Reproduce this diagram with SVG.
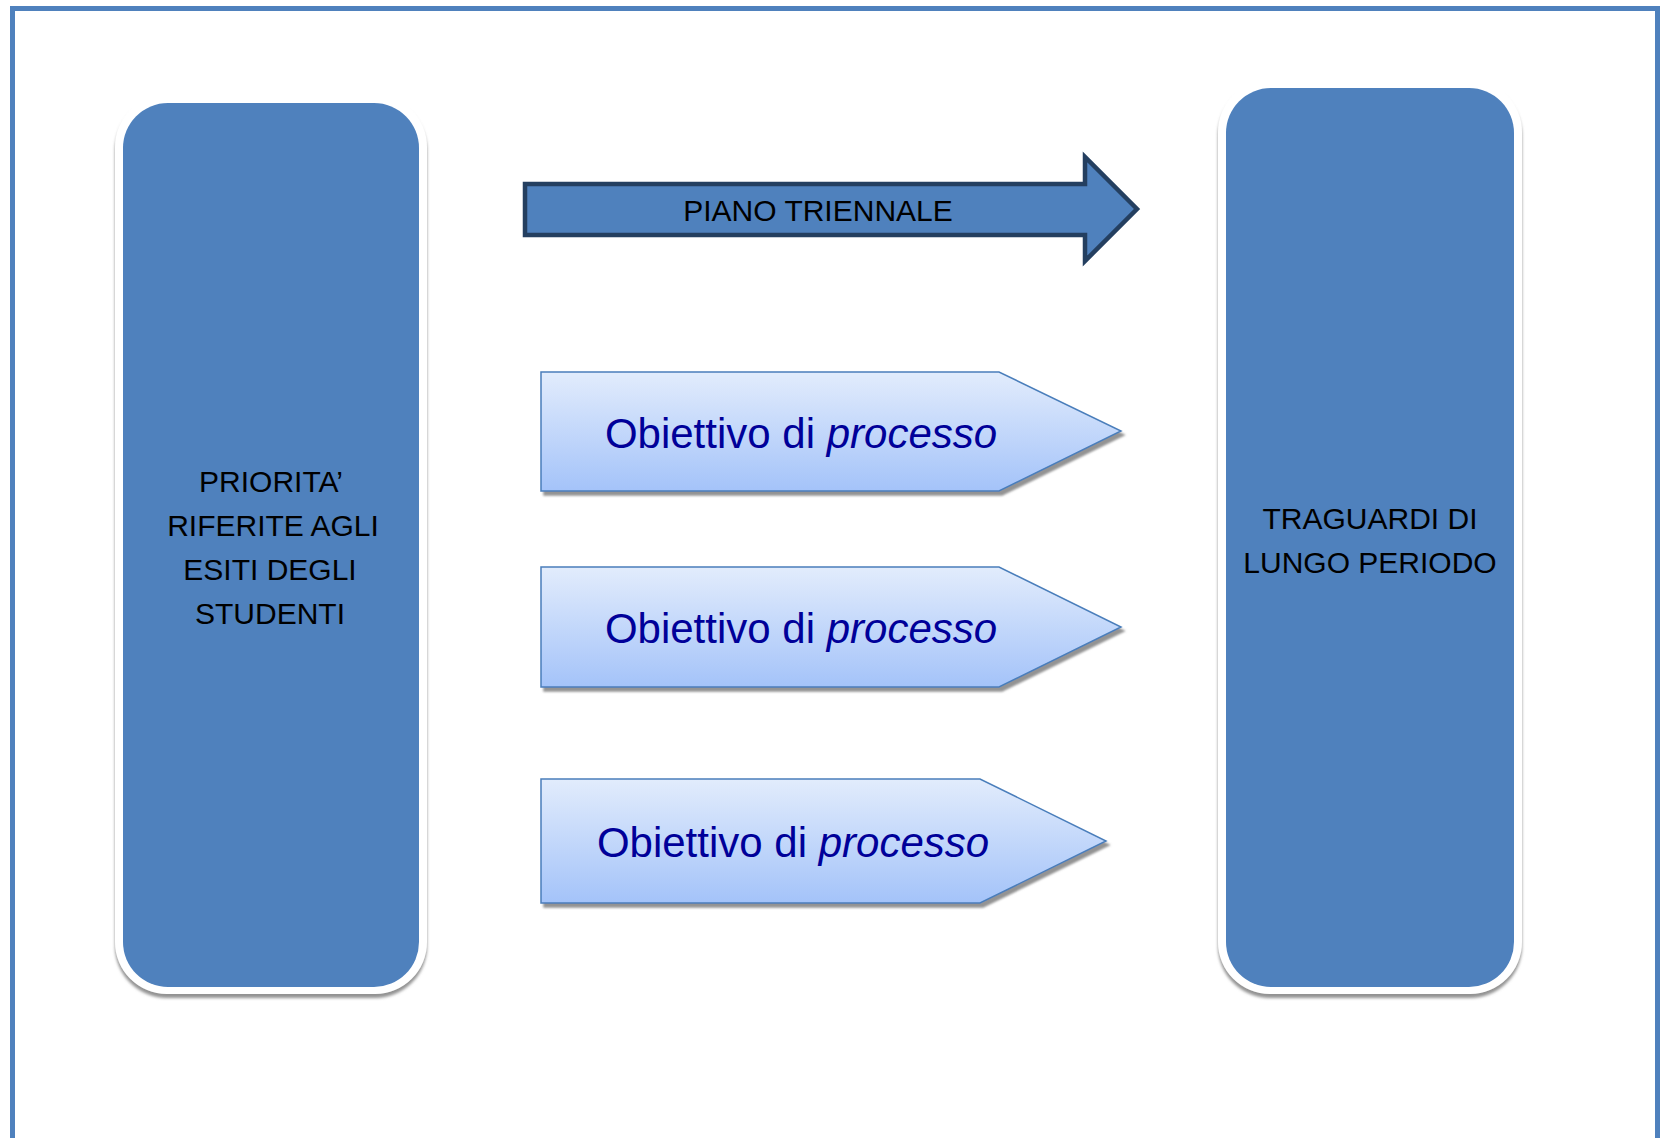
<svg xmlns="http://www.w3.org/2000/svg" width="1660" height="1138" viewBox="0 0 1660 1138">
  <style>
    .lbl { font-family: "Liberation Sans", Arial, sans-serif; font-size: 30px; fill: #000000; text-anchor: middle; }
    .obj { font-family: "Liberation Sans", Arial, sans-serif; font-size: 42px; fill: #000099; text-anchor: middle; }
    .blue { fill: #4F81BD; }
    .frame { fill: #FFFFFF; }
    .chev { fill: url(#chevGrad); stroke: #4A7EBB; stroke-width: 1.5; }
  </style>
  <defs>
    <linearGradient id="chevGrad" x1="0" y1="0" x2="0" y2="1">
      <stop offset="0" stop-color="#E2ECFC"/>
      <stop offset="1" stop-color="#A4C3F9"/>
    </linearGradient>
    <filter id="boxShadow" x="-10%" y="-10%" width="120%" height="120%">
      <feGaussianBlur in="SourceAlpha" stdDeviation="1.5"/>
      <feOffset dx="0" dy="4" result="b"/>
      <feFlood flood-color="#7F7F7F" flood-opacity="0.85"/>
      <feComposite in2="b" operator="in"/>
      <feMerge><feMergeNode/><feMergeNode in="SourceGraphic"/></feMerge>
    </filter>
    <filter id="chevShadow" x="-10%" y="-10%" width="120%" height="130%">
      <feGaussianBlur in="SourceAlpha" stdDeviation="1"/>
      <feOffset dx="3" dy="4" result="b"/>
      <feFlood flood-color="#808080" flood-opacity="0.85"/>
      <feComposite in2="b" operator="in"/>
      <feMerge><feMergeNode/><feMergeNode in="SourceGraphic"/></feMerge>
    </filter>
  </defs>

  <rect x="0" y="0" width="1660" height="1138" fill="#FFFFFF"/>
  <rect id="border" x="12.5" y="8.5" width="1645" height="1200" fill="none" stroke="#4F81BD" stroke-width="5"/>

  <g id="priorita">
    <rect class="frame" x="115" y="95" width="312" height="899" rx="52" ry="52" filter="url(#boxShadow)"/>
    <rect class="blue" x="123" y="103" width="296" height="884" rx="45" ry="45"/>
    <text class="lbl" x="271" y="492">PRIORITA’</text>
    <text class="lbl" x="273" y="536">RIFERITE AGLI</text>
    <text class="lbl" x="270" y="580">ESITI DEGLI</text>
    <text class="lbl" x="270" y="624">STUDENTI</text>
  </g>

  <g id="traguardi">
    <rect class="frame" x="1218" y="80" width="304" height="914" rx="52" ry="52" filter="url(#boxShadow)"/>
    <rect class="blue" x="1226" y="88" width="288" height="899" rx="45" ry="45"/>
    <text class="lbl" x="1370" y="529">TRAGUARDI DI</text>
    <text class="lbl" x="1370" y="573">LUNGO PERIODO</text>
  </g>

  <g id="piano">
    <polygon points="525,184 1085,184 1085,157 1137,209 1085,261 1085,235 525,235" fill="#4F81BD" stroke="#243F60" stroke-width="4.5" stroke-linejoin="miter"/>
    <text class="lbl" x="818" y="221">PIANO TRIENNALE</text>
  </g>

  <g id="obiettivo1">
    <polygon class="chev" points="541,372 999,372 1121,431 999,491 541,491" filter="url(#chevShadow)"/>
    <text class="obj" x="801" y="448">Obiettivo di <tspan font-style="italic">processo</tspan></text>
  </g>

  <g id="obiettivo2">
    <polygon class="chev" points="541,567 999,567 1121,627 999,687 541,687" filter="url(#chevShadow)"/>
    <text class="obj" x="801" y="643">Obiettivo di <tspan font-style="italic">processo</tspan></text>
  </g>

  <g id="obiettivo3">
    <polygon class="chev" points="541,779 980,779 1106,841 980,903 541,903" filter="url(#chevShadow)"/>
    <text class="obj" x="793" y="857">Obiettivo di <tspan font-style="italic">processo</tspan></text>
  </g>

  <g id="connectors"></g>
</svg>
